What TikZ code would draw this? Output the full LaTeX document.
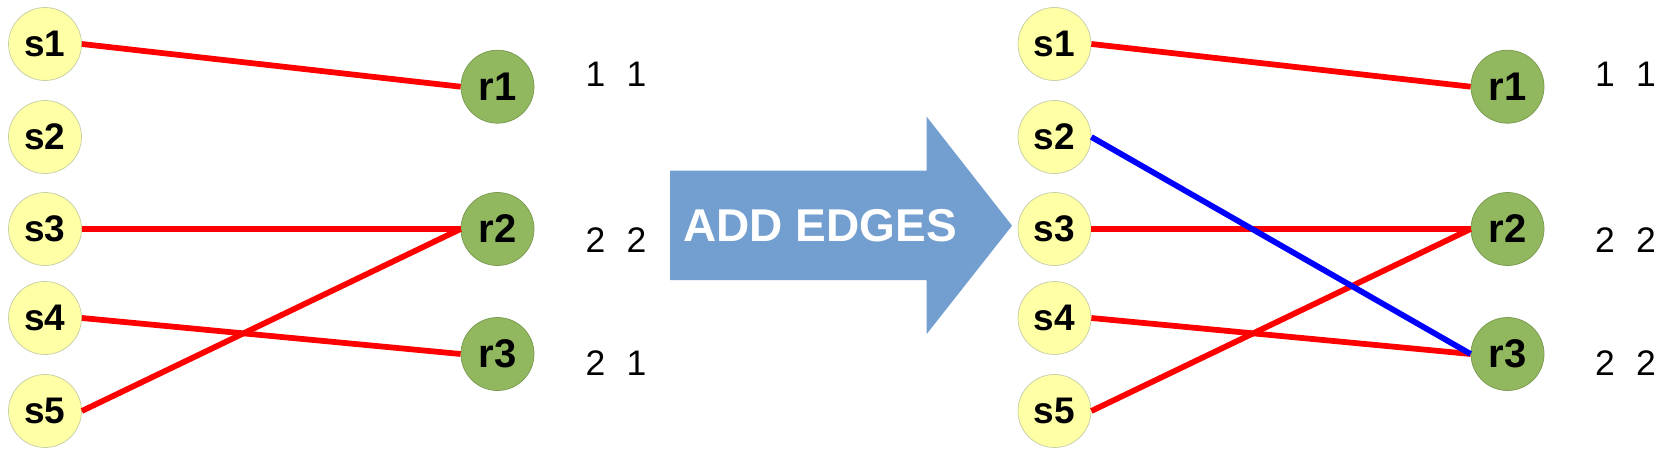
\documentclass[tikz,border=0pt]{standalone}
\usepackage{fontspec}
\setmainfont{Liberation Sans}
\definecolor{svtx}{HTML}{FFFFA6}
\definecolor{svtxline}{HTML}{C8CFA8}
\definecolor{rvtx}{HTML}{92B85F}
\definecolor{rvtxline}{HTML}{7A9A50}
\definecolor{stepblue}{HTML}{729FCF}

\begin{document}
\begin{tikzpicture}[x=0.4pt,y=-0.4pt,
  sv/.style={circle, fill=svtx, draw=svtxline, line width=0.3pt, inner sep=0pt,
    minimum size=29.2pt, font=\fontsize{14.8}{14.8}\selectfont\bfseries},
  rv/.style={circle, fill=rvtx, draw=rvtxline, line width=0.3pt, inner sep=0pt,
    minimum size=29.2pt, font=\fontsize{16}{16}\selectfont\bfseries},
  cnt/.style={anchor=base, inner sep=0pt, font=\fontsize{14.2}{14.2}\selectfont},
  old/.style={red, line width=2.3pt},
  new/.style={blue, line width=2.3pt}]
\useasboundingbox (0,0) rectangle (1661,459);

% before
\node[sv] (as1) at (45,44) {s1};
\node[sv] (as2) at (45,137) {s2};
\node[sv] (as3) at (45,229) {s3};
\node[sv] (as4) at (45,318) {s4};
\node[sv] (as5) at (45,411) {s5};
\node[rv] (ar1) at (497.5,86.7) {r1};
\node[rv] (ar2) at (497.5,229) {r2};
\node[rv] (ar3) at (497.5,354) {r3};
\draw[old] (as1.east) -- (ar1.west);
\draw[old] (as3.east) -- (ar2.west);
\draw[old] (as4.east) -- (ar3.west);
\draw[old] (as5.east) -- (ar2.west);
\node[cnt] (ac1) at (616,86.7) {1\hspace{0.6em}1};
\node[cnt] (ac2) at (616,252.3) {2\hspace{0.6em}2};
\node[cnt] (ac3) at (616,375.7) {2\hspace{0.6em}1};

% the big arrow
\fill[stepblue] (670,170.7) -- (926.7,170.7) -- (926.7,116.7) -- (1012,225.7)
  -- (926.7,334) -- (926.7,280) -- (670,280) -- cycle;
\node[text=white, font=\fontsize{18.4}{18.4}\selectfont\bfseries] (add) at (820,225.7) {ADD EDGES};

% after
\node[sv] (bs1) at (1054.5,44) {s1};
\node[sv] (bs2) at (1054.5,137) {s2};
\node[sv] (bs3) at (1054.5,229) {s3};
\node[sv] (bs4) at (1054.5,318) {s4};
\node[sv] (bs5) at (1054.5,411) {s5};
\node[rv] (br1) at (1507.5,86.7) {r1};
\node[rv] (br2) at (1507.5,229) {r2};
\node[rv] (br3) at (1507.5,354) {r3};
\draw[old] (bs1.east) -- (br1.west);
\draw[old] (bs3.east) -- (br2.west);
\draw[old] (bs4.east) -- (br3.west);
\draw[old] (bs5.east) -- (br2.west);
\draw[new] (bs2.east) -- (br3.west);
\node[cnt] (bc1) at (1625.5,86.7) {1\hspace{0.6em}1};
\node[cnt] (bc2) at (1625.5,252.3) {2\hspace{0.6em}2};
\node[cnt] (bc3) at (1625.5,375.7) {2\hspace{0.6em}2};
\end{tikzpicture}
\end{document}
